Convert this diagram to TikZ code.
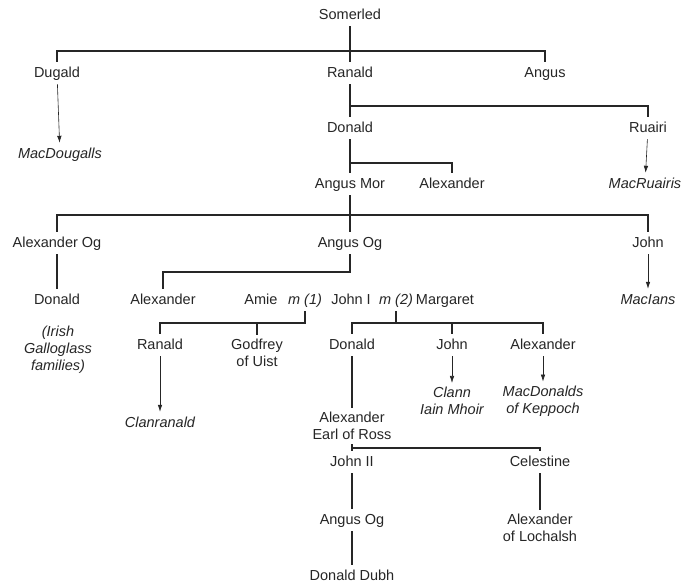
\documentclass[tikz,border=0pt]{standalone}
\usepackage{fontspec}
\setmainfont{Liberation Sans}
\usetikzlibrary{arrows.meta}

\begin{document}
\begin{tikzpicture}
      [x = 1pt, y = -1pt,
      person/.style = {
         inner sep = 4pt,
         text height = 11pt,
         text depth = 3pt,
         font = \fontsize{14.5}{17}\selectfont,
         text = black!85
      },
      clan/.style = {person, font = \fontsize{14.5}{17}\selectfont\itshape},
      personlines/.style = {
         align = center,
         inner sep = 4pt,
         font = \fontsize{14.5}{17}\selectfont,
         text = black!85
      },
      clanlines/.style = {personlines, font = \fontsize{14.5}{17}\selectfont\itshape},
      lineage/.style = {line width = 1.6pt, draw = black!85},
      descent/.style = {line width = 0.6pt, draw = black!85, -{Latex[length = 7pt, width = 4.5pt]}}]

      \fill[white] (0, 0) rectangle (683, 584);
      \useasboundingbox (0, 0) rectangle (683, 584);

      \node[person] (somerled) at (350, 15) {Somerled};
      \node[person] (dugald) at (57, 73) {Dugald};
      \node[person] (ranald) at (350, 73) {Ranald};
      \node[person] (angus) at (545, 73) {Angus};
      \node[clan] (macdougalls) at (60, 154) {MacDougalls};
      \node[person] (donald1) at (350, 128) {Donald};
      \node[person] (ruairi) at (648, 128) {Ruairi};
      \node[person] (angusmor) at (350, 184) {Angus Mor};
      \node[person] (alexander1) at (452, 184) {Alexander};
      \node[clan] (macruairis) at (645, 184) {MacRuairis};
      \node[person] (alexog) at (57, 243) {Alexander Og};
      \node[person] (angusog) at (350, 243) {Angus Og};
      \node[person] (john1) at (648, 243) {John};
      \node[person] (donald2) at (57, 300) {Donald};
      \node[person] (alexander2) at (163, 300) {Alexander};
      \node[person] (amie) at (261, 300) {Amie};
      \node[clan] (mone) at (305, 300) {m (1)};
      \node[person] (johnI) at (351, 300) {John I};
      \node[clan] (mtwo) at (396, 300) {m (2)};
      \node[person] (margaret) at (445, 300) {Margaret};
      \node[clan] (macians) at (648, 300) {MacIans};
      \node[clanlines] (irish) at (58, 350) {(Irish\\Galloglass\\families)};
      \node[person] (ranald2) at (160, 345) {Ranald};
      \node[personlines] (godfrey) at (257, 353) {Godfrey\\of Uist};
      \node[person] (donald3) at (352, 345) {Donald};
      \node[person] (john3) at (452, 345) {John};
      \node[person] (alexander3) at (543, 345) {Alexander};
      \node[clan] (clanranald) at (160, 423) {Clanranald};
      \node[personlines] (earlross) at (352, 426) {Alexander\\Earl of Ross};
      \node[clanlines] (clann) at (452, 401) {Clann\\Iain Mhoir};
      \node[clanlines] (keppoch) at (543, 401) {MacDonalds\\of Keppoch};
      \node[person] (johnII) at (352, 462) {John II};
      \node[person] (celestine) at (540, 462) {Celestine};
      \node[person] (angusog2) at (352, 520) {Angus Og};
      \node[personlines] (lochalsh) at (540, 528) {Alexander\\of Lochalsh};
      \node[person] (donalddubh) at (352, 576) {Donald Dubh};

      \coordinate (b1) at (350, 51);
      \coordinate (b2) at (350, 106);
      \coordinate (b3) at (350, 163);
      \coordinate (b4) at (350, 215);
      \coordinate (b5) at (350, 272);
      \coordinate (b6) at (305, 323);
      \coordinate (b7) at (396, 323);
      \coordinate (b8) at (352, 448);

      \draw[lineage] (somerled) -- (ranald);
      \draw[lineage] (dugald) |- (b1) -| (angus);
      \draw[descent] (dugald) -- (macdougalls);

      \draw[lineage] (ranald) -- (donald1);
      \draw[lineage] (b2) -| (ruairi);
      \draw[descent] (ruairi) -- (macruairis);

      \draw[lineage] (donald1) -- (angusmor);
      \draw[lineage] (b3) -| (alexander1);

      \draw[lineage] (angusmor) -- (angusog);
      \draw[lineage] (alexog) |- (b4) -| (john1);
      \draw[lineage] (alexog) -- (donald2);
      \draw[descent] (john1) -- (macians);

      \draw[lineage] (angusog) -- (b5) -| (alexander2);

      \draw[lineage] (mone) -- (b6) -| (ranald2);
      \draw[lineage] (godfrey) -- (godfrey |- b6);
      \draw[descent] (ranald2) -- (clanranald);

      \draw[lineage] (mtwo) -- (b7);
      \draw[lineage] (donald3) |- (b7) -| (alexander3);
      \draw[lineage] (john3) -- (john3 |- b7);
      \draw[descent] (john3) -- (clann);
      \draw[descent] (alexander3) -- (keppoch);

      \draw[lineage] (donald3) -- (earlross);
      \draw[lineage] (earlross) -- (johnII);
      \draw[lineage] (b8) -| (celestine);
      \draw[lineage] (johnII) -- (angusog2);
      \draw[lineage] (angusog2) -- (donalddubh);
      \draw[lineage] (celestine) -- (lochalsh);

   \end{tikzpicture}
\end{document}
